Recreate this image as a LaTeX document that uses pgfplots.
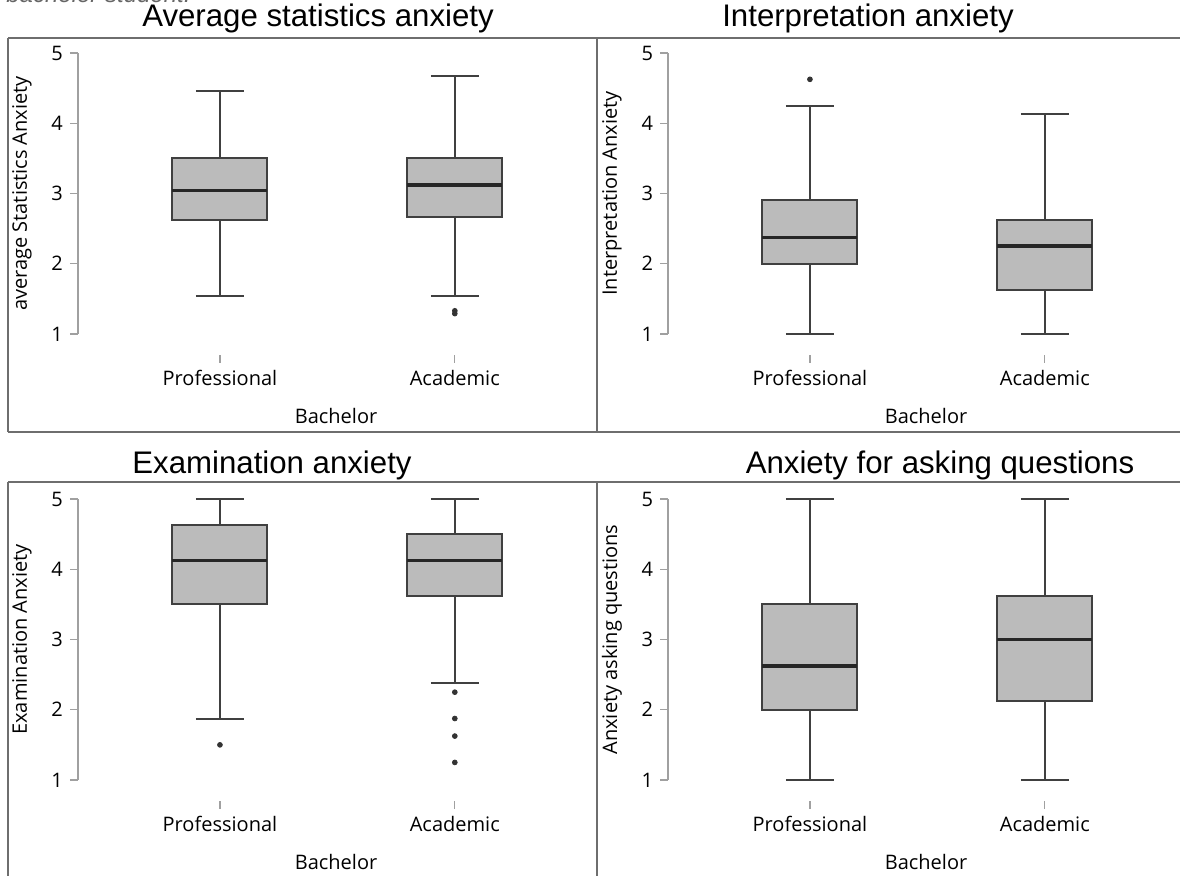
\documentclass[border=0pt]{standalone}
\usepackage{fontspec}
\setmainfont{Open Sans}
\newfontfamily\titlefont{Liberation Sans}
\usepackage{pgfplots}
\pgfplotsset{compat=1.18}
\usepgfplotslibrary{statistics}

\definecolor{boxfill}{HTML}{BBBBBB}
\definecolor{boxline}{HTML}{404040}
\definecolor{axgray}{HTML}{A0A0A0}
\definecolor{framegray}{HTML}{6E6E6E}

\pgfplotsset{
  panel/.style={
    scale only axis, width=253pt, height=140.5pt,
    xmin=0.3957, xmax=2.55, ymin=1, ymax=5,
    axis y line*=left, axis x line*=bottom,
    x axis line style={draw=none},
    axis x line shift=10.5pt,
    y axis line style={draw=axgray, line width=0.6pt},
    xtick={1,2}, xticklabels={Professional,Academic},
    ytick={1,2,3,4,5},
    tick align=outside, major tick length=4pt,
    tick style={draw=axgray, line width=0.6pt},
    /pgf/number format/assume math mode=true,
    tick label style={font=\fontsize{10}{12}\selectfont},
    label style={font=\fontsize{10}{12}\selectfont},
    xlabel={Bachelor},
    xlabel style={at={(axis description cs:0.51,-0.292)}, anchor=center},
    ylabel style={at={(axis description cs:-0.1106,0.5)}, anchor=center},
    clip=false,
    boxplot/draw direction=y,
    boxplot/box extend=0.404,
    boxplot/whisker extend=0.204,
    boxplot/every box/.style={draw=boxline, fill=boxfill, line width=1pt},
    boxplot/every whisker/.style={draw=boxline, line width=1pt},
    boxplot/every median/.style={draw=black!85, line width=1.8pt},
  },
  bx/.style={draw=boxline, solid, mark=*, mark size=1.2pt,
    mark options={fill=black!80, draw=black!80}, boxplot prepared={#1}},
}

\begin{document}
\begin{tikzpicture}[x=0.5pt, y=0.5pt]
\coordinate (TL) at (78,542);
\coordinate (TR) at (668,542);
\coordinate (BL) at (78,96);
\coordinate (BR) at (668,96);
\begin{scope}
\clip (0,0) rectangle (1180,876);

% clipped caption line above the figure
\node[anchor=base west, inner sep=0pt, text=black!60,
  font=\titlefont\itshape\fontsize{12}{14}\selectfont] at (6,873) {bachelor student.};

% panel frames
\draw[framegray, line width=1pt] (8,838) -- (1190,838);
\draw[framegray, line width=1pt] (8,444) -- (1190,444);
\draw[framegray, line width=1pt] (8,394) -- (1190,394);
\draw[framegray, line width=1pt] (8,838) -- (8,444);
\draw[framegray, line width=1pt] (597,838) -- (597,444);
\draw[framegray, line width=1pt] (8,394) -- (8,-10);
\draw[framegray, line width=1pt] (597,394) -- (597,-10);

% titles
\begin{scope}[every node/.style={font=\titlefont\fontsize{15.6}{18}\selectfont, inner sep=0pt}]
\node at (318,858) {Average statistics anxiety};
\node at (868,858) {Interpretation anxiety};
\node at (272,411) {Examination anxiety};
\node at (940,411) {Anxiety for asking questions};
\end{scope}

% top left
\begin{axis}[panel, at={(TL)}, anchor=south west, ylabel={average Statistics Anxiety}]
\addplot[bx={draw position=1, lower whisker=1.54, lower quartile=2.62, median=3.04,
  upper quartile=3.50, upper whisker=4.46}] coordinates {};
\addplot[bx={draw position=2, lower whisker=1.54, lower quartile=2.67, median=3.125,
  upper quartile=3.50, upper whisker=4.67}] table[row sep=\\, y index=0] {y\\ 1.29\\ 1.33\\};
\end{axis}

% top right
\begin{axis}[panel, at={(TR)}, anchor=south west, ylabel={Interpretation Anxiety}]
\addplot[bx={draw position=1, lower whisker=1.0, lower quartile=2.0, median=2.375,
  upper quartile=2.91, upper whisker=4.25}] table[row sep=\\, y index=0] {y\\ 4.625\\};
\addplot[bx={draw position=2, lower whisker=1.0, lower quartile=1.625, median=2.25,
  upper quartile=2.625, upper whisker=4.125}] coordinates {};
\end{axis}

% bottom left
\begin{axis}[panel, at={(BL)}, anchor=south west, ylabel={Examination Anxiety}]
\addplot[bx={draw position=1, lower whisker=1.875, lower quartile=3.50, median=4.125,
  upper quartile=4.625, upper whisker=5.0}] table[row sep=\\, y index=0] {y\\ 1.50\\};
\addplot[bx={draw position=2, lower whisker=2.375, lower quartile=3.625, median=4.125,
  upper quartile=4.50, upper whisker=5.0}] table[row sep=\\, y index=0] {y\\ 2.25\\ 1.875\\ 1.625\\ 1.25\\};
\end{axis}

% bottom right
\begin{axis}[panel, at={(BR)}, anchor=south west, ylabel={Anxiety asking questions}]
\addplot[bx={draw position=1, lower whisker=1.0, lower quartile=2.0, median=2.625,
  upper quartile=3.50, upper whisker=5.0}] coordinates {};
\addplot[bx={draw position=2, lower whisker=1.0, lower quartile=2.125, median=3.0,
  upper quartile=3.625, upper whisker=5.0}] coordinates {};
\end{axis}
\end{scope}
\pgfresetboundingbox
\path[use as bounding box] (0,0) rectangle (1180,876);
\end{tikzpicture}
\end{document}
